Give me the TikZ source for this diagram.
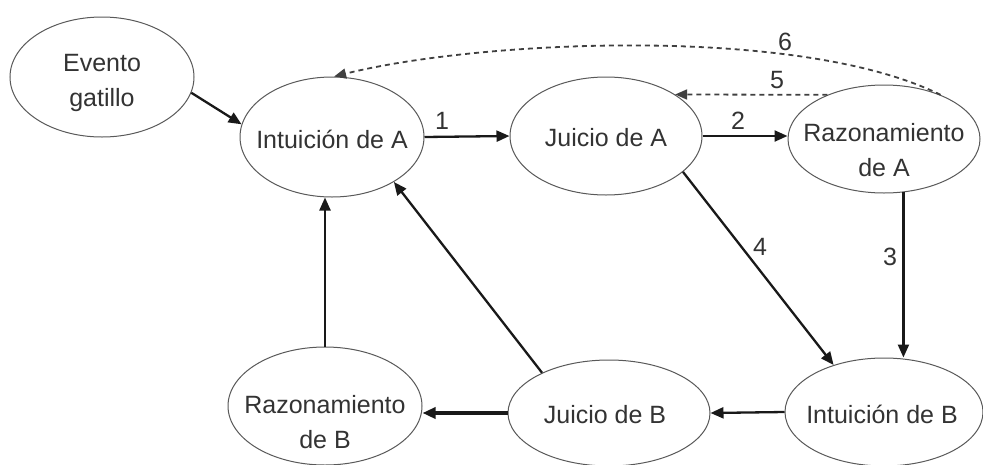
\documentclass[tikz,border=0pt]{standalone}
\usepackage{fontspec}
\setmainfont{Liberation Sans}
\usetikzlibrary{arrows.meta,shapes.geometric}
\begin{document}
\begin{tikzpicture}[x=1pt,y=-1pt,
  ell/.style={ellipse, draw=black!65, line width=1pt, inner sep=0pt},
  txt/.style={text=black!80, font=\fontsize{25}{35}\selectfont, align=center, inner sep=0pt},
  arr/.style={-{Triangle[length=13pt,width=11pt]}, line width=2.3pt, draw=black!90},
  darr/.style={-{Triangle[length=12pt,width=10pt]}, line width=1.8pt, draw=black!75, dash pattern=on 5pt off 4pt},
  lbl/.style={text=black!80, font=\fontsize{25}{30}\selectfont, inner sep=0pt}]
\useasboundingbox (0,0) rectangle (983,464);
\fill[white] (0,0) rectangle (983,464);

% nodes
\node[ell, minimum width=184pt, minimum height=120pt] (ev) at (102,77) {};
\node[txt] (evt) at (102,83) {Evento\\gatillo};
\node[ell, minimum width=184pt, minimum height=120pt] (ia) at (332,137) {};
\node[txt] (iat) at (332,139) {Intuición de A};
\node[ell, minimum width=192pt, minimum height=118pt] (ja) at (606,136) {};
\node[txt] (jat) at (606,138) {Juicio de A};
\node[ell, minimum width=192pt, minimum height=108pt] (ra) at (884,139) {};
\node[txt] (rat) at (884,150) {Razonamiento\\de A};
\node[ell, minimum width=198pt, minimum height=108pt] (ib) at (884,412) {};
\node[txt] (ibt) at (882,414) {Intuición de B};
\node[ell, minimum width=202pt, minimum height=106pt] (jb) at (609,413) {};
\node[txt] (jbt) at (605,415) {Juicio de B};
\node[ell, minimum width=194pt, minimum height=118pt] (rb) at (325,406) {};
\node[txt] (rbt) at (325,422) {Razonamiento\\de B};

% connectors
\draw[arr] (ev.-10) -- (ia.172);
\draw[arr] (ia.east) -- (ja.west);
\draw[arr] (ja.east) -- (ja.east -| ra.west);
\draw[arr] (ra.-70) -- (ra.-70 |- ib.north);
\draw[arr] (ja.-25) -- (ib.137);
\draw[arr] (ib.west) -- (jb.east);
\draw[arr, line width=4pt] (jb.west) -- (jb.west -| rb.east);
\draw[arr] (rb.north) -- (rb.north |- ia.south);
\draw[arr] (jb.149) -- (ia.-36);
\draw[darr] (ra.142) -- (ja.31);
\draw[darr] (ra.38) .. controls (800,25) and (480,40) .. (ia.88);

% labels
\node[lbl] (l1) at (442,121) {1};
\node[lbl] (l2) at (738,121) {2};
\node[lbl] (l3) at (890,257) {3};
\node[lbl] (l4) at (760,247) {4};
\node[lbl] (l5) at (777,80) {5};
\node[lbl] (l6) at (785,42) {6};
\end{tikzpicture}
\end{document}
